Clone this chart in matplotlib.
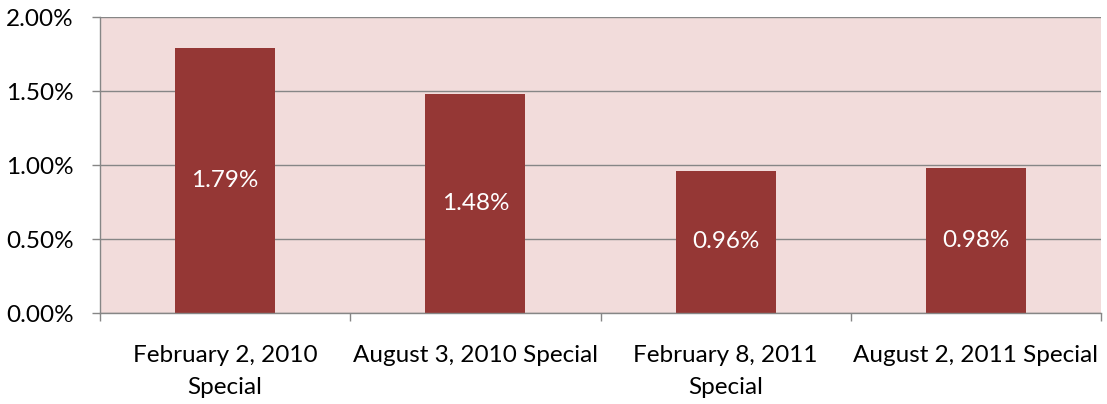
import matplotlib.pyplot as plt
import matplotlib
from matplotlib.ticker import FuncFormatter, MultipleLocator

matplotlib.rcParams["font.family"] = ["Lato", "DejaVu Sans"]

categories = ["February 2, 2010\nSpecial", "August 3, 2010 Special",
              "February 8, 2011\nSpecial", "August 2, 2011 Special"]
values = [1.79, 1.48, 0.96, 0.98]
labels = ["1.79%", "1.48%", "0.96%", "0.98%"]

BAR = "#953735"
BG = "#F2DCDB"
GRID = "#868686"
FS = 17.5

fig = plt.figure(figsize=(11.07, 4.04), dpi=100)
ax = fig.add_axes([100 / 1107, 1 - 313 / 404, 1001 / 1107, 296 / 404])
ax.set_facecolor(BG)

x = range(len(categories))
bars = ax.bar(x, values, width=0.4, color=BAR, zorder=3)
ax.bar_label(bars, labels=labels, label_type="center", color="white", fontsize=FS)

ax.set_xlim(-0.5, 3.5)
ax.set_ylim(0, 2.0)
ax.yaxis.set_major_locator(MultipleLocator(0.5))
ax.yaxis.set_major_formatter(FuncFormatter(lambda v, _: f"{v:.2f}%"))
ax.grid(axis="y", color=GRID, linewidth=1, zorder=1)

ax.set_xticks(list(x))
ax.set_xticklabels(categories, linespacing=1.65)
ax.set_xticks([-0.5, 0.5, 1.5, 2.5, 3.5], minor=True)
ax.tick_params(axis="x", which="major", length=0, pad=23, labelsize=FS)
ax.tick_params(axis="x", which="minor", length=6, width=1, color=GRID, direction="out")
ax.tick_params(axis="y", length=6, width=1, color=GRID, labelsize=FS, pad=13)

for side in ["top", "right"]:
    ax.spines[side].set_visible(False)
for side in ["left", "bottom"]:
    ax.spines[side].set_color(GRID)
    ax.spines[side].set_linewidth(1)
    ax.spines[side].set_zorder(4)

fig.savefig("out.png", dpi=100)
